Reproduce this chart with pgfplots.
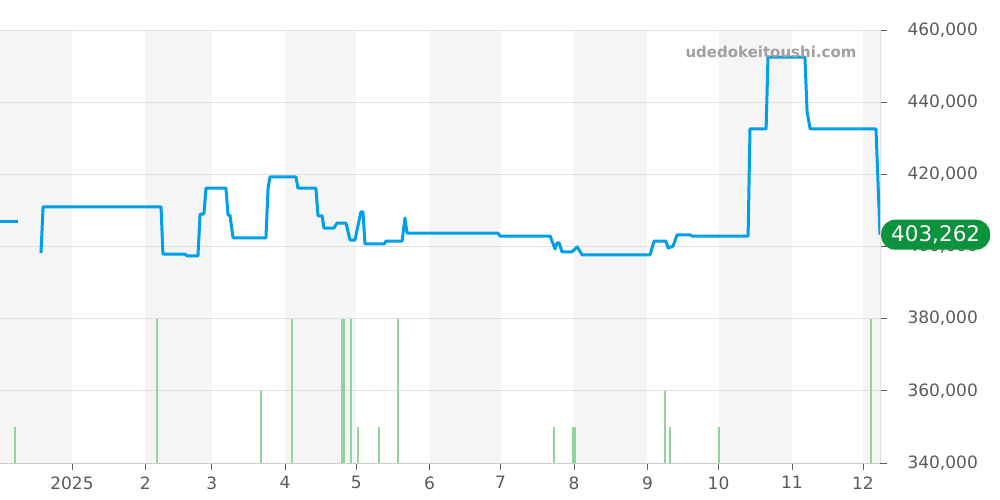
\documentclass[border=0pt]{standalone}
\usepackage{fontspec}
\setmainfont{DejaVu Sans}
\usepackage{pgfplots}
\pgfplotsset{compat=1.18}
\definecolor{bandgray}{RGB}{245,245,245}
\definecolor{gridgray}{RGB}{224,224,224}
\definecolor{pricecol}{RGB}{0,160,233}
\definecolor{volgreen}{RGB}{144,214,156}
\definecolor{labelgreen}{RGB}{10,146,60}
\definecolor{tickgray}{RGB}{90,90,90}
\definecolor{markgray}{RGB}{160,160,160}
\begin{document}
\begin{tikzpicture}
\useasboundingbox (0pt,-37pt) rectangle (1000pt,463pt);
% alternate month bands (x in days from 2025-01-01)
\begin{axis}[scale only axis, width=880pt, height=433pt,
  xmin=-30.4, xmax=341.2, ymin=340000, ymax=460000, hide axis]
\fill[bandgray] (axis cs:-31,340000) rectangle (axis cs:0,460000);
\fill[bandgray] (axis cs:31,340000) rectangle (axis cs:59,460000);
\fill[bandgray] (axis cs:90,340000) rectangle (axis cs:120,460000);
\fill[bandgray] (axis cs:151,340000) rectangle (axis cs:181,460000);
\fill[bandgray] (axis cs:212,340000) rectangle (axis cs:243,460000);
\fill[bandgray] (axis cs:273,340000) rectangle (axis cs:304,460000);
\fill[bandgray] (axis cs:334,340000) rectangle (axis cs:342,460000);
\end{axis}
\begin{axis}[scale only axis, width=880pt, height=433pt,
  xmin=-30.4, xmax=341.2, ymin=340000, ymax=460000,
  axis x line*=bottom, axis y line*=right,
  axis line style={draw=gridgray, line width=0.8pt},
  tick align=outside,
  tick style={draw=tickgray, line width=0.8pt},
  major tick length=7pt,
  xtick={0,31,59,90,120,151,181,212,243,273,304,334},
  xticklabels={2025,2,3,4,5,6,7,8,9,10,11,12},
  ytick={340000,360000,380000,400000,420000,440000,460000},
  yticklabels={{340,000},{360,000},{380,000},{400,000},{420,000},{440,000},{460,000}},
  scaled y ticks=false,
  ymajorgrids, grid style={draw=gridgray, line width=0.8pt},
  ticklabel style={font=\fontsize{17}{20}\selectfont, text=tickgray},
  yticklabel style={anchor=west, xshift=17pt},
  xticklabel style={yshift=-3pt},
]
% volume (scaled to price axis, 10,000 per unit)
\addplot[volgreen, line width=1.4pt, ycomb] coordinates {
(-24.1,350000) (35.9,380000) (79.8,360000) (92.9,380000) (114.0,380000)
(114.9,380000) (117.8,380000) (120.8,350000) (129.6,350000) (137.7,380000)
(203.5,350000) (211.6,350000) (212.4,350000) (250.4,360000) (252.5,350000)
(273.2,350000) (337.4,380000)
};
\addplot[volgreen, line width=1pt, densely dotted] coordinates {(-31,340000) (342,340000)};
% price
\addplot[pricecol, line width=3pt] coordinates {(-30.4,406800) (-22.8,406800)};
\addplot[pricecol, line width=3pt, line join=round] coordinates {
(-13.1,398200) (-12.2,411000) (37.6,411000) (38.4,397900) (47.7,397900)
(48.6,397400) (53.2,397400) (54.1,409000) (55.7,409000) (56.6,416200)
(65.0,416200) (65.9,408700) (66.7,408700) (68.0,402400) (81.9,402400)
(82.8,416200) (83.6,419300) (94.6,419300) (95.4,416200) (103.0,416200)
(103.9,408500) (105.6,408500) (106.4,405100) (110.6,405100) (111.9,406500)
(115.7,406500) (117.4,401800) (119.5,401800) (122.0,409600) (122.9,409600)
(123.7,400700) (131.8,400700) (132.6,401500) (139.4,401500) (140.6,407900)
(141.5,403700) (179.9,403700) (180.7,402900) (201.9,402900) (204.0,399300)
(204.8,401000) (205.7,401000) (206.9,398500) (211.1,398500) (213.3,399900)
(215.4,397700) (244.1,397700) (245.8,401500) (250.8,401500) (251.7,399600)
(253.8,400100) (255.5,403200) (261.0,403200) (261.8,402900) (285.5,402900)
(286.3,432600) (293.1,432600) (293.9,452500) (309.5,452500) (310.4,437300)
(311.7,432600) (339.5,432600) (341.2,403262)
};
\coordinate (last) at (axis cs:341.2,403262);
\end{axis}
\node[font=\bfseries\fontsize{15}{18}\selectfont, text=markgray] at (771pt,411pt) {udedokeitoushi.com};
\node[anchor=west, fill=labelgreen, text=white, rounded corners=14pt,
  minimum height=30pt, inner xsep=10pt, font=\fontsize{21.5}{24}\selectfont]
  at ([xshift=1pt]last) {403,262};
\end{tikzpicture}
\end{document}
